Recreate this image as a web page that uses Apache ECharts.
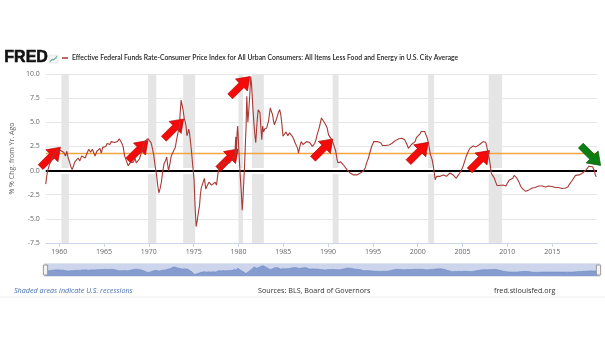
<!DOCTYPE html>
<html>
<head>
<meta charset="utf-8">
<script src="https://cdn.jsdelivr.net/npm/echarts@6/dist/echarts.min.js"></script>
<style>html,body{margin:0;padding:0;background:#fff}#c{width:605px;height:341px}</style>
</head>
<body>
<div id="c"></div>
<script>
// ---- data ----
const years = [1958.5,1958.6,1958.75,1958.9,1959.1,1959.3,1959.5,1959.7,1959.9,1960.1,1960.3,1960.5,1960.7,1960.85,1961.0,1961.15,1961.3,1961.45,1961.6,1961.75,1961.9,1962.1,1962.3,1962.5,1962.7,1962.9,1963.1,1963.3,1963.5,1963.7,1963.85,1964.0,1964.2,1964.4,1964.55,1964.7,1964.85,1965.0,1965.2,1965.35,1965.5,1965.65,1965.8,1966.0,1966.2,1966.35,1966.5,1966.7,1966.85,1967.0,1967.15,1967.3,1967.5,1967.7,1967.9,1968.1,1968.3,1968.45,1968.6,1968.8,1968.95,1969.15,1969.35,1969.5,1969.7,1969.9,1970.1,1970.25,1970.4,1970.55,1970.7,1970.85,1971.0,1971.12,1971.25,1971.4,1971.55,1971.7,1971.85,1972.0,1972.1,1972.2,1972.35,1972.5,1972.65,1972.8,1972.95,1973.1,1973.25,1973.4,1973.5,1973.6,1973.7,1973.8,1973.95,1974.05,1974.15,1974.25,1974.35,1974.45,1974.55,1974.65,1974.75,1974.9,1975.05,1975.15,1975.28,1975.4,1975.55,1975.65,1975.75,1975.85,1976.0,1976.2,1976.35,1976.5,1976.7,1976.85,1977.0,1977.2,1977.4,1977.55,1977.7,1977.9,1978.1,1978.25,1978.4,1978.6,1978.8,1979.0,1979.2,1979.35,1979.5,1979.6,1979.7,1979.77,1979.85,1979.92,1980.02,1980.1,1980.2,1980.3,1980.42,1980.5,1980.6,1980.68,1980.78,1980.85,1980.93,1981.0,1981.05,1981.15,1981.22,1981.3,1981.37,1981.45,1981.55,1981.62,1981.75,1981.85,1981.93,1982.02,1982.1,1982.2,1982.3,1982.4,1982.5,1982.6,1982.7,1982.8,1982.92,1983.05,1983.15,1983.25,1983.35,1983.45,1983.55,1983.65,1983.8,1983.9,1984.0,1984.15,1984.3,1984.45,1984.6,1984.72,1984.82,1984.97,1985.1,1985.3,1985.5,1985.7,1985.85,1986.0,1986.15,1986.3,1986.45,1986.6,1986.7,1986.85,1987.0,1987.2,1987.4,1987.6,1987.8,1987.95,1988.1,1988.25,1988.4,1988.5,1988.65,1988.8,1989.0,1989.15,1989.26,1989.4,1989.5,1989.7,1989.9,1990.05,1990.2,1990.4,1990.55,1990.7,1990.85,1991.0,1991.1,1991.25,1991.4,1991.55,1991.7,1991.9,1992.1,1992.3,1992.45,1992.65,1992.85,1993.0,1993.2,1993.4,1993.6,1993.8,1993.95,1994.15,1994.3,1994.5,1994.7,1994.9,1995.1,1995.3,1995.5,1995.7,1995.9,1996.05,1996.2,1996.4,1996.6,1996.8,1996.95,1997.1,1997.3,1997.5,1997.7,1997.9,1998.05,1998.25,1998.4,1998.55,1998.7,1998.85,1998.95,1999.1,1999.3,1999.5,1999.7,1999.85,2000.07,2000.25,2000.4,2000.6,2000.77,2000.9,2001.05,2001.2,2001.4,2001.6,2001.75,2001.85,2001.95,2002.1,2002.3,2002.5,2002.7,2002.85,2003.0,2003.2,2003.4,2003.6,2003.8,2003.95,2004.15,2004.3,2004.5,2004.7,2004.9,2005.06,2005.25,2005.4,2005.6,2005.8,2006.0,2006.2,2006.35,2006.5,2006.7,2006.9,2007.1,2007.3,2007.5,2007.6,2007.7,2007.85,2008.0,2008.1,2008.2,2008.35,2008.55,2008.7,2008.85,2009.0,2009.1,2009.3,2009.5,2009.7,2009.85,2010.0,2010.2,2010.4,2010.6,2010.75,2010.85,2011.0,2011.1,2011.3,2011.5,2011.7,2011.9,2012.05,2012.2,2012.4,2012.6,2012.8,2012.95,2013.1,2013.3,2013.5,2013.7,2013.9,2014.05,2014.25,2014.4,2014.6,2014.8,2015.0,2015.2,2015.35,2015.5,2015.7,2015.9,2016.1,2016.3,2016.5,2016.6,2016.75,2016.9,2017.1,2017.25,2017.4,2017.6,2017.8,2018.0,2018.2,2018.4,2018.6,2018.8,2018.95,2019.1,2019.3,2019.5,2019.6,2019.7,2019.8,2019.9];
const spread = [-1.4,-0.6,0.1,0.6,1.0,1.5,1.7,2.0,2.2,2.1,2.25,1.9,1.5,2.0,1.3,0.9,0.4,0.1,0.5,0.9,0.8,1.3,1.0,1.5,1.65,1.3,1.8,2.2,1.9,2.2,2.0,1.5,2.0,2.1,2.3,1.8,2.4,2.6,2.5,2.8,2.85,2.7,3.0,3.2,2.9,3.1,3.0,3.3,3.1,2.8,2.4,1.5,1.0,0.5,0.8,0.6,0.9,1.3,0.8,0.6,1.2,1.8,2.4,3.0,3.2,3.3,3.3,2.9,2.3,1.6,0.5,-0.4,-1.6,-2.3,-1.9,-1.2,-0.1,0.7,1.0,1.4,0.6,0.0,0.7,1.5,1.7,2.1,2.4,3.2,3.9,4.6,6.0,7.3,7.4,6.4,5.4,5.1,4.6,3.6,3.9,4.3,3.8,3.9,2.1,0.5,-1.0,-3.5,-5.8,-5.2,-4.2,-3.7,-2.5,-1.8,-1.6,-0.8,-1.9,-1.6,-1.2,-1.4,-1.5,-1.3,-1.2,-1.5,-0.4,0.8,0.6,0.4,0.95,0.7,0.5,0.8,0.9,1.2,1.0,1.6,3.5,1.8,4.0,4.6,2.5,1.1,-0.6,-2.0,-4.1,-3.0,-1.0,0.5,3.0,4.6,7.7,6.0,5.0,6.2,7.2,8.5,9.75,9.0,7.5,6.3,4.6,3.5,2.9,4.2,5.3,6.3,6.1,6.0,4.5,3.2,4.6,4.0,4.3,4.2,4.4,4.8,5.1,5.8,6.5,6.2,5.8,5.2,4.75,5.1,5.5,6.0,6.3,5.8,5.0,3.55,3.7,4.0,3.6,3.9,3.7,3.55,3.3,2.9,2.85,2.3,1.8,2.5,3.0,2.7,2.9,3.0,3.2,2.9,2.7,2.5,2.3,2.8,3.2,3.8,4.4,5.0,5.45,5.3,5.1,4.8,4.4,3.7,3.5,3.2,2.9,2.7,2.0,1.15,0.8,0.95,0.9,0.8,0.6,0.4,0.1,-0.1,-0.25,-0.35,-0.45,-0.5,-0.45,-0.35,-0.25,-0.2,-0.05,0.3,0.8,1.3,2.0,2.6,3.0,3.1,3.0,2.9,2.85,2.6,2.45,2.6,2.7,2.65,2.7,2.8,2.95,3.1,3.2,3.3,3.4,3.35,3.3,3.2,3.0,2.6,2.3,2.5,2.7,2.9,3.0,3.4,3.55,3.8,4.05,4.1,4.05,3.85,3.4,2.85,1.7,1.15,0.4,-0.3,-0.95,-0.6,-0.55,-0.6,-0.5,-0.45,-0.5,-0.6,-0.4,-0.25,-0.35,-0.45,-0.6,-0.8,-0.5,-0.25,0.1,0.45,1.0,1.45,1.9,2.3,2.5,2.55,2.5,2.45,2.6,2.7,2.8,3.0,3.1,2.9,2.5,1.8,1.15,0.5,-0.25,-0.5,-0.8,-1.2,-1.55,-1.5,-1.55,-1.5,-1.5,-1.6,-1.6,-1.3,-1.0,-0.9,-0.8,-0.5,-0.45,-0.7,-0.8,-1.2,-1.65,-1.9,-2.1,-2.15,-2.1,-2.0,-1.95,-1.8,-1.65,-1.75,-1.7,-1.6,-1.55,-1.6,-1.55,-1.7,-1.65,-1.6,-1.65,-1.65,-1.7,-1.75,-1.8,-1.75,-1.8,-1.85,-1.8,-1.8,-1.8,-1.7,-1.45,-1.3,-1.0,-0.8,-0.5,-0.6,-0.45,-0.4,-0.25,-0.1,0.1,0.3,0.45,0.35,0.4,0.2,0.0,-0.4,-0.65];
const recessions = [[1960.25,1961.08],[1969.92,1970.83],[1973.83,1975.17],[1980.0,1980.5],[1981.5,1982.83],[1990.5,1991.17],[2001.17,2001.83],[2007.92,2009.42]];
const xTicks = [1960,1965,1970,1975,1980,1985,1990,1995,2000,2005,2010,2015];
const yMin = -7.5, yMax = 10, yStep = 2.5;
const refLevel = 1.8;           // orange reference line
const upArrowYears = [1959.03,1968.8,1972.78,1978.85,1980.18,1989.42,2000.07,2006.9];
const upArrowValues = [1.39,2.08,4.32,1.2,8.71,2.25,1.9,1.05];
const downArrowYears = [2019.3];
const downArrowValues = [1.56];
const titleText = 'Effective Federal Funds Rate-Consumer Price Index for All Urban Consumers: All Items Less Food and Energy in U.S. City Average';

const lineData = years.map((y,i)=>[y, spread[i]]);
const arrowPath = 'path://M5,0 L10,6 L7,6 L7,14 L3,14 L3,6 L0,6 Z';

const chart = echarts.init(document.getElementById('c'), null, {renderer:'canvas'});
chart.setOption({
  animation:false,
  backgroundColor:'#fff',
  grid:{left:42, right:8, top:74, bottom:98},
  xAxis:{
    type:'value', min:1958.5, max:2020,
    splitLine:{show:false},
    axisLine:{show:true, onZero:false, lineStyle:{color:'#ccd6eb'}},
    axisTick:{show:true, customValues:xTicks, length:4, lineStyle:{color:'#ccd6eb'}},
    axisLabel:{customValues:xTicks, formatter:v=>String(v), fontSize:7, color:'#666', margin:5, fontFamily:'Open Sans'}
  },
  yAxis:{
    type:'value', min:yMin, max:yMax, interval:yStep,
    name:'% % Chg. from Yr. Ago', nameLocation:'middle', nameGap:28, nameRotate:90,
    nameTextStyle:{fontSize:7, color:'#666', fontFamily:'Open Sans'},
    axisLine:{show:false}, axisTick:{show:false},
    splitLine:{lineStyle:{color:'#e6e6e6', width:1}},
    axisLabel:{formatter:v=>v.toFixed(1), fontSize:7, color:'#666', margin:6, fontFamily:'Open Sans'}
  },
  dataZoom:[{
    type:'slider', xAxisIndex:0, start:0, end:100,
    left:42, right:8, top:263, height:14,
    backgroundColor:'#eef1f8', borderColor:'#dfe4ee',
    fillerColor:'rgba(102,133,194,0.25)',
    dataBackground:{lineStyle:{color:'#6685c2', width:0.5}, areaStyle:{color:'#7891c9', opacity:0.8}},
    selectedDataBackground:{lineStyle:{color:'#6685c2', width:0.5}, areaStyle:{color:'#7891c9', opacity:0.8}},
    handleIcon:'path://M0,0 L6,0 L6,14 L0,14 Z', handleSize:10,
    handleStyle:{color:'#f2f2f2', borderColor:'#999', borderWidth:1},
    moveHandleSize:0, showDetail:false, brushSelect:false, zoomLock:true,
    emphasis:{handleStyle:{color:'#f2f2f2', borderColor:'#999'}}
  }],
  series:[
    {
      type:'line', data:lineData, showSymbol:false, z:5,
      lineStyle:{color:'#a83a36', width:1.1}, itemStyle:{color:'#a83a36'}
    },
    {
      type:'line', data:[], z:1, silent:true,
      markArea:{silent:true, itemStyle:{color:'#e5e5e5'},
        data:recessions.map(r=>[{xAxis:r[0]},{xAxis:r[1]}])}
    },
    {
      type:'line', data:[], z:2, silent:true,
      markLine:{silent:true, symbol:['none','none'], label:{show:false},
        data:[
          {yAxis:0, lineStyle:{color:'#ffffff', width:6, type:'solid'}},
          {yAxis:0, lineStyle:{color:'#000000', width:1.8, type:'solid'}},
          {yAxis:refLevel, lineStyle:{color:'#f2a541', width:1.3, type:'solid'}}
        ]}
    },
    {
      type:'line', data:[], z:10, silent:true,
      markPoint:{silent:true, symbol:arrowPath, symbolSize:[17,28], label:{show:false},
        data: upArrowYears.map((y,i)=>({coord:[y, upArrowValues[i]], symbolRotate:-45,
          itemStyle:{color:'#f50a0a', borderColor:'#b00000', borderWidth:0.6}}))
          .concat(downArrowYears.map((y,i)=>({coord:[y, downArrowValues[i]], symbolRotate:-135,
          itemStyle:{color:'#0b7d12', borderColor:'#045508', borderWidth:0.6}})))
      }
    }
  ],
  graphic:[
    {type:'text', left:4, top:49, style:{text:'FRED', font:'bold 16px "Liberation Sans", Arial', fill:'#111', stroke:'#111', lineWidth:0.6}},
    {type:'rect', shape:{x:49, y:55, width:9, height:8}, style:{fill:'#f4f4f4', stroke:'#d8d8d8', lineWidth:0.5}},
    {type:'polyline', shape:{points:[[50,62],[52,59],[54,60],[57,56]]}, style:{stroke:'#4aa84a', lineWidth:0.8, fill:null}},
    {type:'polyline', shape:{points:[[50,61],[53,60],[55,58],[57,58]]}, style:{stroke:'#6a8fd0', lineWidth:0.6, fill:null}},
    {type:'line', shape:{x1:62, y1:58, x2:68, y2:58}, style:{stroke:'#a83a36', lineWidth:1.5}},
    {type:'text', left:72, top:54, style:{text:titleText, font:'600 6.8px Lato', fill:'#222'}},
    {type:'text', left:14, top:287, style:{text:'Shaded areas indicate U.S. recessions', font:'italic 7.2px "Open Sans"', fill:'#4a72b0'}},
    {type:'text', left:258, top:287, style:{text:'Sources: BLS, Board of Governors', font:'7.2px "Open Sans"', fill:'#333'}},
    {type:'text', left:494, top:287, style:{text:'fred.stlouisfed.org', font:'7.2px "Open Sans"', fill:'#333'}},
    {type:'line', shape:{x1:0, y1:297, x2:605, y2:297}, style:{stroke:'#eeeeee', lineWidth:1}}
  ]
});
</script>
</body>
</html>
